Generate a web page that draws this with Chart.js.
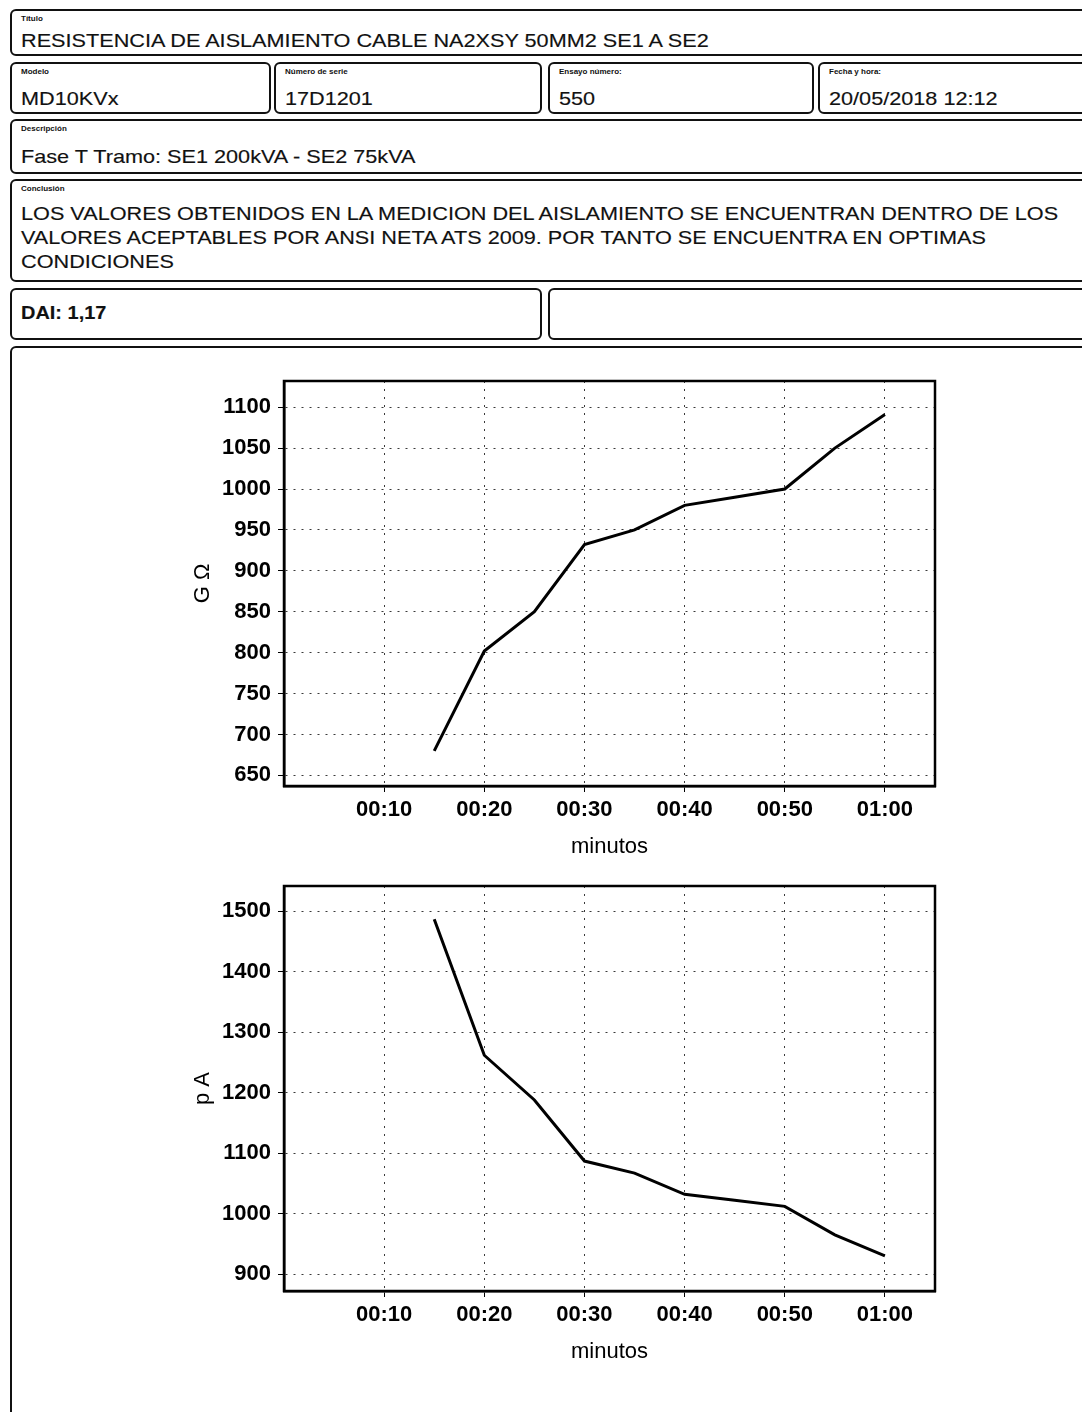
<!DOCTYPE html>
<html lang="es">
<head>
<meta charset="utf-8">
<title>Resistencia de aislamiento</title>
<script src="https://cdn.jsdelivr.net/npm/chart.js@4/dist/chart.umd.min.js"></script>
<style>
  html, body { margin: 0; padding: 0; background: #fff; }
  body { width: 1082px; height: 1412px; position: relative; overflow: hidden;
         font-family: "Liberation Sans", Arial, sans-serif; color: #111; }
  .box { position: absolute; border: 2.5px solid #111; border-radius: 6px; box-sizing: border-box; }
  .lbl { position: absolute; left: 9px; top: 3px; font-size: 8px; font-weight: bold; }
  .val, .para { position: absolute; left: 9px; font-size: 19px; white-space: nowrap;
                transform: scaleX(1.14); transform-origin: 0 0; -webkit-text-stroke: 0.15px #111; }
  .para { top: 21px; line-height: 24px; }
  canvas { position: absolute; }
</style>
</head>
<body>
  <div class="box" style="left:10px;top:9px;width:1090px;height:47px">
    <div class="lbl">Título</div>
    <div class="val" style="top:19px">RESISTENCIA DE AISLAMIENTO CABLE NA2XSY 50MM2 SE1 A SE2</div>
  </div>

  <div class="box" style="left:10px;top:62px;width:261px;height:52px">
    <div class="lbl">Modelo</div>
    <div class="val" style="top:24px">MD10KVx</div>
  </div>
  <div class="box" style="left:274px;top:62px;width:268px;height:52px">
    <div class="lbl">Número de serie</div>
    <div class="val" style="top:24px">17D1201</div>
  </div>
  <div class="box" style="left:548px;top:62px;width:266px;height:52px">
    <div class="lbl">Ensayo número:</div>
    <div class="val" style="top:24px">550</div>
  </div>
  <div class="box" style="left:818px;top:62px;width:280px;height:52px">
    <div class="lbl">Fecha y hora:</div>
    <div class="val" style="top:24px">20/05/2018 12:12</div>
  </div>

  <div class="box" style="left:10px;top:119px;width:1090px;height:55px">
    <div class="lbl">Descripción</div>
    <div class="val" style="top:25px">Fase T Tramo: SE1 200kVA - SE2 75kVA</div>
  </div>

  <div class="box" style="left:10px;top:179px;width:1090px;height:103px">
    <div class="lbl">Conclusión</div>
    <div class="para">LOS VALORES OBTENIDOS EN LA MEDICION DEL AISLAMIENTO SE ENCUENTRAN DENTRO DE LOS<br>VALORES ACEPTABLES POR ANSI NETA ATS 2009. POR TANTO SE ENCUENTRA EN OPTIMAS<br>CONDICIONES</div>
  </div>

  <div class="box" style="left:10px;top:288px;width:532px;height:52px">
    <div class="val" style="top:12px;font-weight:bold;font-size:19px;transform:scaleX(1.05)">DAI: 1,17</div>
  </div>
  <div class="box" style="left:548px;top:288px;width:550px;height:52px"></div>

  <div class="box" style="left:10px;top:346px;width:1090px;height:1100px"></div>

  <canvas id="chartR" width="770" height="494" style="left:190px;top:370px;width:770px;height:494px"></canvas>
  <canvas id="chartI" width="770" height="494" style="left:190px;top:875px;width:770px;height:494px"></canvas>

<script>
// Elapsed time of each reading (minutes)
const minutes = [15, 20, 25, 30, 35, 40, 45, 50, 55, 60];
// Insulation resistance, GΩ
const resistance = [680, 802, 850, 932, 950, 980, 990, 1000, 1050, 1091];
// Leakage current, pA
const current = [1487, 1262, 1188, 1087, 1067, 1032, 1022, 1012, 965, 930];

const timeTickValues = [10, 20, 30, 40, 50, 60];
const timeTickLabels = ['00:10', '00:20', '00:30', '00:40', '00:50', '01:00'];
const resistanceTicks = [650, 700, 750, 800, 850, 900, 950, 1000, 1050, 1100];
const currentTicks = [900, 1000, 1100, 1200, 1300, 1400, 1500];

const FONT = '"Liberation Sans", Arial, sans-serif';

// Solid rectangle around the plotting area
const frame = {
  id: 'frame',
  afterDatasetsDraw(chart) {
    const { ctx, chartArea: a } = chart;
    ctx.save();
    ctx.setLineDash([]);
    ctx.strokeStyle = '#000';
    ctx.lineWidth = 2.5;
    ctx.strokeRect(a.left, a.top, a.right - a.left, a.bottom - a.top);
    ctx.restore();
  }
};

function makeChart(id, values, yTicks, yMin, yMax, yTitle) {
  const tickLabelOf = v => {
    const i = timeTickValues.indexOf(v);
    return i >= 0 ? timeTickLabels[i] : '';
  };
  return new Chart(document.getElementById(id), {
    type: 'line',
    data: {
      datasets: [{
        data: minutes.map((m, i) => ({ x: m, y: values[i] })),
        borderColor: '#000',
        borderWidth: 3,
        pointRadius: 0,
        tension: 0,
        fill: false
      }]
    },
    options: {
      responsive: false,
      animation: false,
      events: [],
      layout: { padding: { top: 11, right: 25, bottom: 0, left: 0 } },
      plugins: { legend: { display: false }, tooltip: { enabled: false } },
      scales: {
        x: {
          type: 'linear',
          min: 0,
          max: 65,
          afterBuildTicks: s => { s.ticks = timeTickValues.map(v => ({ value: v })); },
          afterFit: s => { s.height = 78; s.paddingLeft = 0; s.paddingRight = 0; },
          ticks: {
            autoSkip: false,
            maxRotation: 0,
            padding: 5,
            color: '#000',
            font: { family: FONT, size: 22, weight: 'bold' },
            callback: v => tickLabelOf(v)
          },
          grid: {
            color: '#3a3a3a',
            lineWidth: 1,
            tickLength: 6,
            tickColor: '#000'
          },
          border: { display: true, color: '#000', width: 2.5, dash: [2, 6] },
          title: {
            display: true,
            text: 'minutos',
            color: '#000',
            font: { family: FONT, size: 22 },
            padding: { top: 4, bottom: 4 }
          }
        },
        y: {
          min: yMin,
          max: yMax,
          afterBuildTicks: s => { s.ticks = yTicks.map(v => ({ value: v })); },
          afterFit: s => { s.width = 94; s.paddingTop = 0; s.paddingBottom = 0; },
          ticks: {
            padding: 7,
            color: '#000',
            font: { family: FONT, size: 22, weight: 'bold' },
            callback: v => String(v)
          },
          grid: {
            color: '#3a3a3a',
            lineWidth: 1,
            tickLength: 6,
            tickColor: '#000'
          },
          border: { display: true, color: '#000', width: 2.5, dash: [2, 6] },
          title: {
            display: true,
            text: yTitle,
            color: '#000',
            font: { family: FONT, size: 22 },
            padding: { top: 0, bottom: 0 }
          }
        }
      }
    },
    plugins: [frame]
  });
}

makeChart('chartR', resistance, resistanceTicks, 637, 1132, 'G Ω');
makeChart('chartI', current, currentTicks, 872, 1542, 'p A');
</script>
</body>
</html>
